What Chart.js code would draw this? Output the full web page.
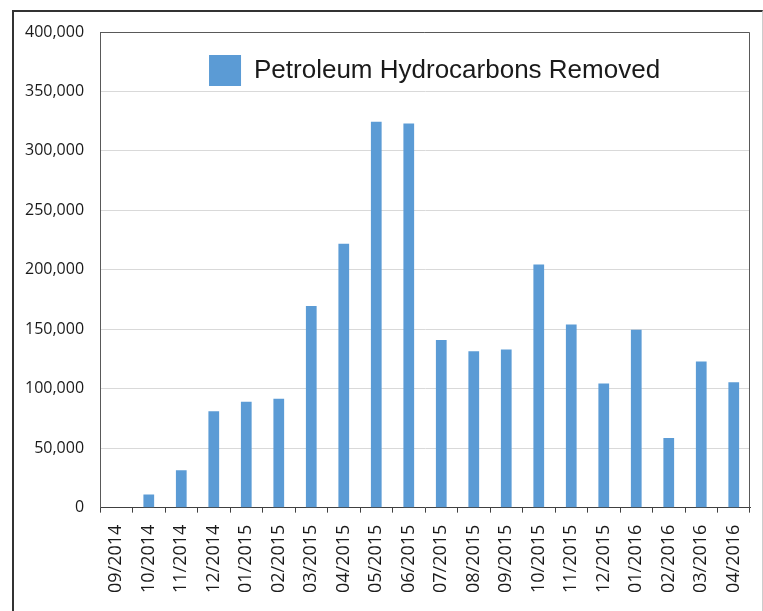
<!DOCTYPE html>
<html>
<head>
<meta charset="utf-8">
<script src="https://cdn.jsdelivr.net/npm/chart.js@4/dist/chart.umd.min.js"></script>
<style>
  html, body { margin: 0; padding: 0; background: #fff; }
  #wrap { position: relative; width: 763px; height: 611px; }
  #frame {
    position: absolute; left: 12px; top: 10px; width: 748px; height: 620px;
    border-left: 2px solid #333; border-top: 2px solid #333; border-right: 1px solid #ccc;
    pointer-events: none;
  }
</style>
</head>
<body>
<div id="wrap">
  <canvas id="chart" width="763" height="611"></canvas>
  <div id="frame"></div>
</div>
<script>
const months = ["09/2014", "10/2014", "11/2014", "12/2014", "01/2015", "02/2015", "03/2015",
    "04/2015", "05/2015", "06/2015", "07/2015", "08/2015", "09/2015", "10/2015",
    "11/2015", "12/2015", "01/2016", "02/2016", "03/2016", "04/2016"];
const removed = [0, 11000, 31500, 81000, 89000, 91500, 169500, 222000, 324500, 323000,
    141000, 131500, 133000, 204500, 154000, 104500, 149500, 58500, 123000, 105500];

// top + right border of the plot box
const plotBox = {
    id: "plotBox",
    afterDraw(chart) {
        const { ctx, chartArea: a } = chart;
        ctx.save();
        ctx.strokeStyle = "#595959";
        ctx.lineWidth = 1;
        ctx.beginPath();
        ctx.moveTo(a.left, a.top + 0.5);
        ctx.lineTo(a.right - 0.5, a.top + 0.5);
        ctx.lineTo(a.right - 0.5, a.bottom);
        ctx.stroke();
        ctx.restore();
    },
};

// move the legend over to where the original has it
const legendShift = {
    id: "legendShift",
    afterLayout(chart) {
        chart.legend.left += 86;
        chart.legend.right += 86;
        chart.legend.top += 32;
        chart.legend.bottom += 32;
    },
};

const ctx = document.getElementById("chart").getContext("2d");
const chart = new Chart(ctx, {
    type: "bar",
    data: {
        labels: months,
        datasets: [{
            label: "Petroleum Hydrocarbons Removed",
            data: removed,
            backgroundColor: "#5b9bd5",
            borderWidth: 0,
            barPercentage: 0.33,
            categoryPercentage: 1,
        }],
    },
    options: {
        responsive: false,
        animation: false,
        layout: {
            padding: { left: 9, top: 32, right: 13, bottom: 6 },
        },
        scales: {
            x: {
                afterFit: (scale) => {
                    scale.paddingLeft = 0;
                    scale.paddingRight = 0;
                },
                grid: {
                    drawOnChartArea: false,
                    tickLength: 5,
                    color: "#404040",
                },
                border: { color: "#404040" },
                ticks: {
                    maxRotation: 90,
                    minRotation: 90,
                    padding: 12,
                    color: "#1a1a1a",
                    font: { family: "'Open Sans'", size: 18 },
                },
            },
            y: {
                min: 0,
                max: 400000,
                grid: {
                    color: "#d9d9d9",
                    drawTicks: false,
                },
                border: { color: "#595959" },
                ticks: {
                    stepSize: 50000,
                    padding: 16,
                    color: "#1a1a1a",
                    font: { family: "'Open Sans'", size: 16 },
                    callback: (v) => v.toLocaleString("en-US"),
                },
            },
        },
        plugins: {
            legend: {
                position: "chartArea",
                align: "start",
                labels: {
                    boxWidth: 32,
                    boxHeight: 31,
                    padding: 23,
                    color: "#1a1a1a",
                    font: { family: "'Liberation Sans'", size: 26 },
                },
            },
            tooltip: { enabled: false },
        },
    },
    plugins: [plotBox, legendShift],
});
</script>
</body>
</html>
